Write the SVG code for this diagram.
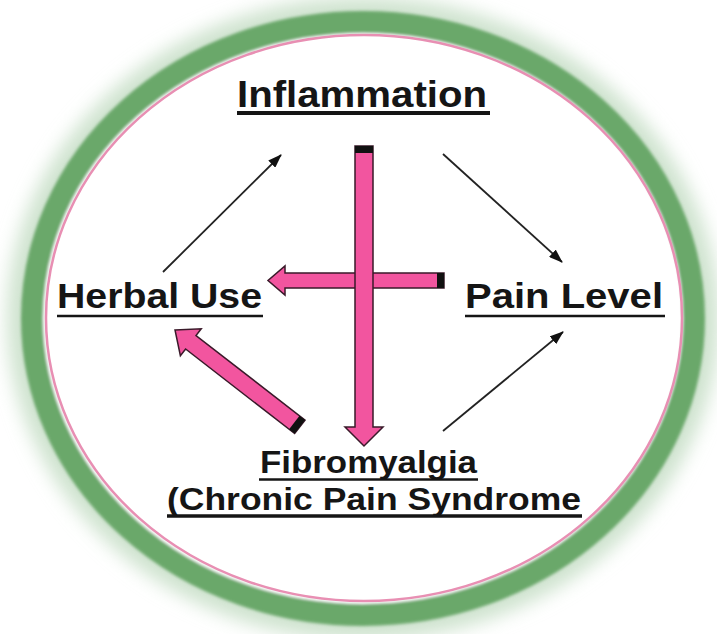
<svg xmlns="http://www.w3.org/2000/svg" width="717" height="634" viewBox="0 0 717 634">
<defs>
<style>
.lbl{font-family:"Liberation Sans",Arial,sans-serif;font-weight:bold;fill:#151515}
.ul{stroke:#151515;stroke-width:2.5}
.pink{fill:#F2559F;stroke:#3a1a2a;stroke-width:1.5;stroke-linejoin:miter}
.cap{fill:#111}
.thin{stroke:#222;stroke-width:1.8;fill:none;marker-end:url(#ah)}
</style>
<marker id="ah" viewBox="0 0 14 10" refX="13" refY="5" markerWidth="14" markerHeight="10" markerUnits="userSpaceOnUse" orient="auto">
<path d="M0,0 L14,5 L0,10 Z" fill="#111"/>
</marker>
<filter id="halo" x="-20%" y="-20%" width="140%" height="140%"><feGaussianBlur stdDeviation="9"/></filter>
<filter id="soft" x="-10%" y="-10%" width="120%" height="120%"><feGaussianBlur stdDeviation="1.5"/></filter>
</defs>
<rect width="717" height="634" fill="#ffffff"/>
<g id="ring">
<ellipse cx="363" cy="318.5" rx="331" ry="296.5" fill="none" stroke="#cfe3cf" stroke-width="50" filter="url(#halo)"/>
<ellipse cx="363" cy="318.5" rx="331" ry="296.5" fill="#ffffff" stroke="#6aa86a" stroke-width="22" filter="url(#soft)"/>
<ellipse cx="364" cy="318" rx="318" ry="283" fill="none" stroke="#e88fb3" stroke-width="2.5"/>
</g>
<g id="connectors">
<line class="thin" x1="163" y1="272" x2="281" y2="155"/>
<line class="thin" x1="443" y1="154" x2="562" y2="262"/>
<line class="thin" x1="443" y1="431" x2="563" y2="332"/>
<g id="arrow-fibro-herbal" transform="translate(175,330) rotate(37.8)">
<path class="pink" d="M0,0 L20,-17 V-8.5 H158 V8.5 H20 V17 Z"/>
<rect class="cap" x="151" y="-8.5" width="7" height="17"/>
</g>
<g id="arrow-pain-herbal">
<path class="pink" d="M444,273 V288 H285 V295 L268,280.5 L285,266 V273 Z"/>
<rect class="cap" x="437" y="273" width="7" height="15"/>
</g>
<g id="arrow-infl-fibro">
<path class="pink" d="M355,146 H373 V427 H383 L364,446 L345,427 H355 Z"/>
<rect class="cap" x="355" y="146" width="18" height="7"/>
</g>
</g>
<g id="inflammation">
<text class="lbl" x="237" y="107" font-size="36" textLength="250" lengthAdjust="spacingAndGlyphs">Inflammation</text>
<line x1="237" y1="113" x2="490" y2="113" stroke="#151515" stroke-width="4"/>
</g>
<g id="herbal-use">
<text class="lbl" x="57" y="308" font-size="35" textLength="205" lengthAdjust="spacingAndGlyphs">Herbal Use</text>
<line class="ul" x1="57" y1="316" x2="263" y2="316"/>
</g>
<g id="pain-level">
<text class="lbl" x="465" y="308" font-size="35" textLength="198" lengthAdjust="spacingAndGlyphs">Pain Level</text>
<line class="ul" x1="465" y1="316" x2="665" y2="316"/>
</g>
<g id="fibromyalgia">
<text class="lbl" x="260" y="473" font-size="31" textLength="217" lengthAdjust="spacingAndGlyphs">Fibromyalgia</text>
<line class="ul" x1="259" y1="479.5" x2="478" y2="479.5"/>
<text class="lbl" x="167" y="510" font-size="31" textLength="414" lengthAdjust="spacingAndGlyphs">(Chronic Pain Syndrome</text>
<line x1="167" y1="516" x2="582" y2="516" stroke="#151515" stroke-width="3.5"/>
</g>
</svg>
